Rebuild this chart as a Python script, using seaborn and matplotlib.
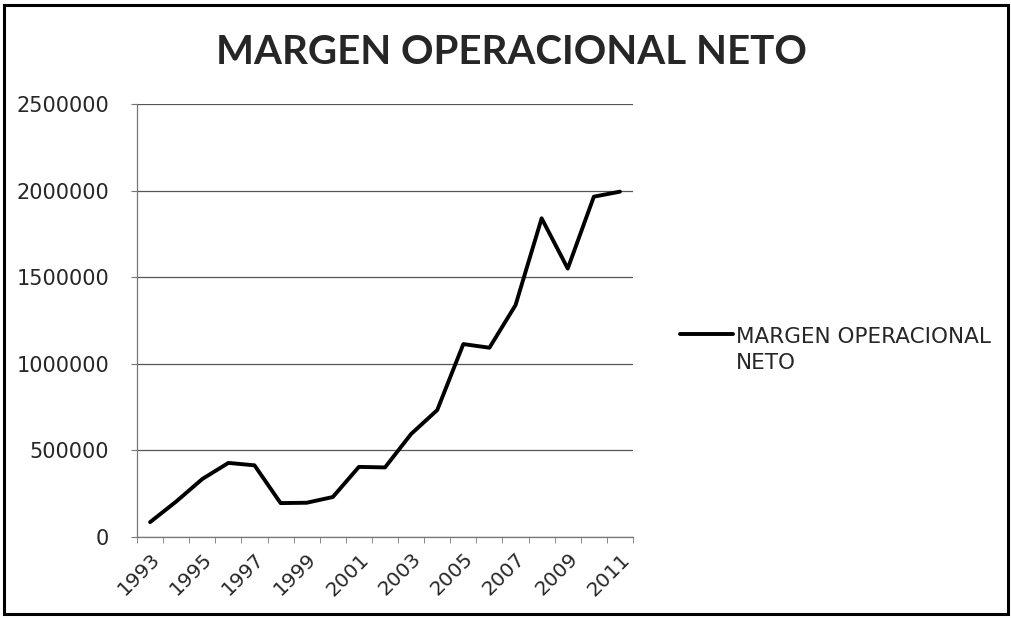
import matplotlib
matplotlib.use("Agg")
import matplotlib.pyplot as plt
import seaborn as sns
import pandas as pd
import numpy as np
from matplotlib.patches import Rectangle

years = list(range(1993, 2012))
margen = [86000, 205000, 335000, 428000, 414000, 196000, 198000, 231000,
          405000, 402000, 595000, 733000, 1114000, 1093000, 1339000,
          1840000, 1550000, 1965000, 1994000]
yticks = [0, 500000, 1000000, 1500000, 2000000, 2500000]
xlabels = [str(y) for y in years[::2]]
series_name = "MARGEN OPERACIONAL NETO"

df = pd.DataFrame({"year": years, "value": margen})

sns.set_style("white")
plt.rcParams['font.family'] = ['DejaVu Sans']

fig = plt.figure(figsize=(10.12, 6.18), dpi=100)
ax = fig.add_axes([0.1354, 0.131, 0.6255 - 0.1354, 0.8317 - 0.131])

sns.lineplot(data=df, x="year", y="value", ax=ax, color="black", linewidth=2.8,
             label="MARGEN OPERACIONAL\nNETO")

ax.set_xlim(1992.5, 2011.5)
ax.set_ylim(0, 2500000)
ax.set_yticks(yticks)
ax.set_yticklabels([str(v) for v in yticks], fontsize=15)
ax.set_xticks(years[::2])
ax.set_xticklabels(xlabels, rotation=45, ha="right", rotation_mode="anchor", fontsize=14.5)
ax.set_xticks(np.arange(1992.5, 2012, 1.0), minor=True)
ax.tick_params(axis="x", which="major", length=0, pad=9)
ax.tick_params(axis="x", which="minor", length=4, color="#777777", direction="out", bottom=True)
ax.tick_params(axis="y", length=4, color="#777777", direction="out", left=True, pad=16)
ax.set_xlabel("")
ax.set_ylabel("")
ax.grid(axis="y", color="#555555", linewidth=0.9)
for s in ["top", "right"]:
    ax.spines[s].set_visible(False)
ax.spines["left"].set_color("#777777")
ax.spines["bottom"].set_color("#777777")
ax.spines["left"].set_linewidth(0.9)
ax.spines["bottom"].set_linewidth(0.9)

leg = ax.legend(loc="upper left", bbox_to_anchor=(1.055, 0.53), frameon=False,
                handlelength=2.5, handletextpad=0.12, labelspacing=0.3,
                prop={"family": "DejaVu Sans", "size": 15.5})
leg.get_texts()[0].set_linespacing(1.35)
hl = leg.get_lines()[0]
hl.set_ydata(np.asarray(hl.get_ydata()) + 12)

fig.suptitle("MARGEN OPERACIONAL NETO", x=0.505, y=0.945, fontsize=29,
             fontweight="bold", family="Lato")

fig.patches.append(Rectangle((0.004, 0.006), 0.992, 0.986, transform=fig.transFigure,
                             fill=False, edgecolor="black", linewidth=2.2))

fig.savefig("out.png", dpi=100)
